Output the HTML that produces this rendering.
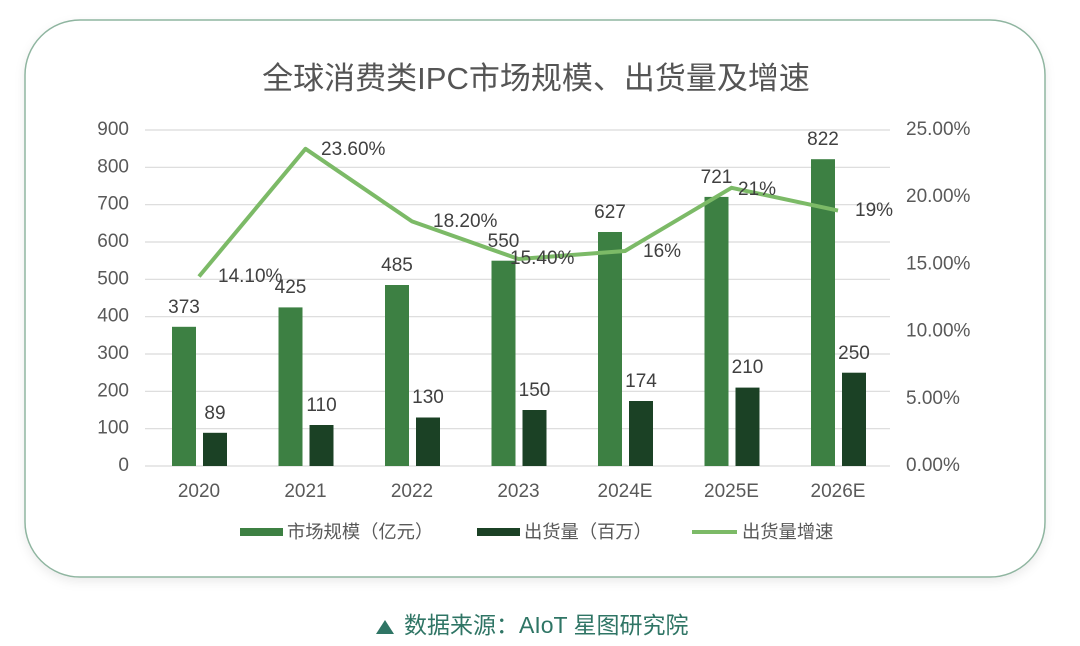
<!DOCTYPE html>
<html><head><meta charset="utf-8"><style>
body{margin:0;background:#fff;}
svg{display:block;font-family:"Liberation Sans","Noto Sans CJK SC",sans-serif;}
</style></head><body>
<svg width="1080" height="646" viewBox="0 0 1080 646">
<defs><filter id="sh" x="-5%" y="-5%" width="110%" height="115%"><feDropShadow dx="0" dy="4" stdDeviation="5" flood-color="#000" flood-opacity="0.08"/></filter></defs>
<rect x="25" y="20" width="1020" height="557" rx="55" fill="#fff" stroke="#8fb5a0" stroke-width="1.5" filter="url(#sh)"/>
<text x="536" y="89" font-size="31" fill="#555" text-anchor="middle">全球消费类IPC市场规模、出货量及增速</text>
<g stroke="#d9d9d9" stroke-width="1.2">
<line x1="145" x2="890" y1="466" y2="466"/><line x1="145" x2="890" y1="428.7" y2="428.7"/><line x1="145" x2="890" y1="391.3" y2="391.3"/><line x1="145" x2="890" y1="354" y2="354"/><line x1="145" x2="890" y1="316.7" y2="316.7"/><line x1="145" x2="890" y1="279.3" y2="279.3"/><line x1="145" x2="890" y1="242" y2="242"/><line x1="145" x2="890" y1="204.7" y2="204.7"/><line x1="145" x2="890" y1="167.3" y2="167.3"/><line x1="145" x2="890" y1="130" y2="130"/>
</g>
<g font-size="19" fill="#595959" text-anchor="end" dominant-baseline="middle">
<text x="129" y="466">0</text><text x="129" y="428.7">100</text><text x="129" y="391.3">200</text><text x="129" y="354">300</text><text x="129" y="316.7">400</text><text x="129" y="279.3">500</text><text x="129" y="242">600</text><text x="129" y="204.7">700</text><text x="129" y="167.3">800</text><text x="129" y="130">900</text>
</g>
<g font-size="19" fill="#595959" dominant-baseline="middle">
<text x="906" y="466">0.00%</text><text x="906" y="398.8">5.00%</text><text x="906" y="331.6">10.00%</text><text x="906" y="264.4">15.00%</text><text x="906" y="197.2">20.00%</text><text x="906" y="130">25.00%</text>
</g>
<g font-size="19" fill="#595959" text-anchor="middle">
<text x="199" y="497">2020</text><text x="305.5" y="497">2021</text><text x="412" y="497">2022</text><text x="518.5" y="497">2023</text><text x="625" y="497">2024E</text><text x="731.5" y="497">2025E</text><text x="838" y="497">2026E</text>
</g>
<g fill="#3d8043">
<rect x="172" y="326.8" width="24" height="139.2"/><rect x="278.5" y="307.4" width="24" height="158.6"/><rect x="385" y="285" width="24" height="181"/><rect x="491.5" y="260.7" width="24" height="205.3"/><rect x="598" y="232" width="24" height="234"/><rect x="704.5" y="196.9" width="24" height="269.1"/><rect x="811" y="159.2" width="24" height="306.8"/>
</g>
<g fill="#1b4125">
<rect x="203" y="432.8" width="24" height="33.2"/><rect x="309.5" y="425" width="24" height="41"/><rect x="416" y="417.5" width="24" height="48.5"/><rect x="522.5" y="410" width="24" height="56"/><rect x="629" y="401" width="24" height="65"/><rect x="735.5" y="387.6" width="24" height="78.4"/><rect x="842" y="372.7" width="24" height="93.3"/>
</g>
<g font-size="19" fill="#404040" text-anchor="middle">
<text x="184" y="313">373</text><text x="290.5" y="293">425</text><text x="397" y="271">485</text><text x="503.5" y="247">550</text><text x="610" y="218">627</text><text x="716.5" y="183">721</text><text x="823" y="145">822</text>
<text x="215" y="419">89</text><text x="321.5" y="411">110</text><text x="428" y="403">130</text><text x="534.5" y="396">150</text><text x="641" y="387">174</text><text x="747.5" y="373">210</text><text x="854" y="359">250</text>
</g>
<polyline fill="none" stroke="#7cba67" stroke-width="4" stroke-linejoin="round" points="199,276.5 305.5,148.8 412,221.4 518.5,259 625,251 731.5,187.8 838,210.6"/>
<g font-size="19" fill="#404040" dominant-baseline="middle">
<text x="218" y="277">14.10%</text><text x="321" y="150">23.60%</text><text x="433" y="222">18.20%</text><text x="510" y="259">15.40%</text><text x="643" y="252">16%</text><text x="738" y="190">21%</text><text x="855" y="211">19%</text>
</g>
<g font-size="18.3" fill="#595959" dominant-baseline="middle">
<rect x="240" y="528" width="43" height="8" fill="#3d8043"/><text x="287" y="533">市场规模（亿元）</text>
<rect x="477" y="528" width="43" height="8" fill="#1b4125"/><text x="524" y="533">出货量（百万）</text>
<line x1="692" x2="737" y1="532" y2="532" stroke="#7cba67" stroke-width="4"/><text x="742" y="533">出货量增速</text>
</g>
<polygon points="385,620 376,634 394,634" fill="#2f7565"/>
<text x="404" y="633" font-size="23" fill="#2f7565">数据来源：AIoT 星图研究院</text>
</svg>
</body></html>
